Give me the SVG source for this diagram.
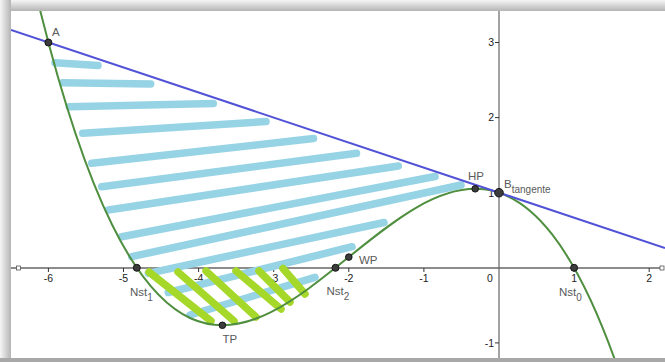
<svg xmlns="http://www.w3.org/2000/svg" width="665" height="362" viewBox="0 0 665 362">
<style>
.tick{font-family:"Liberation Sans",Arial,sans-serif;font-size:10.5px;fill:#222}
.lbl{font-family:"Liberation Sans",Arial,sans-serif;font-size:11.5px;fill:#5a5a5a}
.sub{font-size:10px}
.pt{fill:#3c3c3c;stroke:#151515;stroke-width:1}
.blue{stroke:#96d3e5;stroke-width:7.5;stroke-linecap:round;fill:none}
.green{stroke:#a6d82a;stroke-width:7.5;stroke-linecap:round;fill:none}
.tk{stroke:#333;stroke-width:1}
</style>
<defs>
<linearGradient id="gTop" x1="0" y1="0" x2="0" y2="1">
<stop offset="0" stop-color="#f6f6f6"/><stop offset="1" stop-color="#b4b4b4"/>
</linearGradient>
<linearGradient id="gLeft" x1="0" y1="0" x2="1" y2="0">
<stop offset="0" stop-color="#f6f6f6"/><stop offset="1" stop-color="#b4b4b4"/>
</linearGradient>
<clipPath id="frame"><rect x="11" y="11" width="654" height="347"/></clipPath>
</defs>
<g id="background">
<rect x="0" y="0" width="665" height="362" fill="#ffffff"/>
<rect x="0" y="0" width="665" height="11" fill="url(#gTop)"/>
<rect x="0" y="0" width="11" height="362" fill="url(#gLeft)"/>
<rect x="0" y="358" width="665" height="4" fill="#a8a8a8"/>
</g>
<g id="axes">
<line x1="11" y1="268" x2="660" y2="268" stroke="#1a1a1a" stroke-width="1.2"/>
<rect x="16.5" y="266" width="4" height="4" fill="#fff" stroke="#555" stroke-width="0.8"/>
<rect x="660" y="266" width="4" height="4" fill="#fff" stroke="#555" stroke-width="0.8"/>
<line x1="499" y1="11" x2="499" y2="358" stroke="#666" stroke-width="1.2"/>
<g class="tk">
<line x1="48.4" y1="268" x2="48.4" y2="272"/>
<line x1="123.5" y1="268" x2="123.5" y2="272"/>
<line x1="198.6" y1="268" x2="198.6" y2="272"/>
<line x1="273.7" y1="268" x2="273.7" y2="272"/>
<line x1="348.8" y1="268" x2="348.8" y2="272"/>
<line x1="423.9" y1="268" x2="423.9" y2="272"/>
<line x1="574.1" y1="268" x2="574.1" y2="272"/>
<line x1="649.2" y1="268" x2="649.2" y2="272"/>
<line x1="495" y1="42.5" x2="499" y2="42.5"/>
<line x1="495" y1="117.6" x2="499" y2="117.6"/>
<line x1="495" y1="192.7" x2="499" y2="192.7"/>
<line x1="495" y1="342.9" x2="499" y2="342.9"/>
</g>
<g class="tick" text-anchor="middle">
<text x="48.4" y="282">-6</text>
<text x="123.5" y="282">-5</text>
<text x="198.6" y="282">-4</text>
<text x="273.7" y="282">-3</text>
<text x="348.8" y="282">-2</text>
<text x="423.9" y="282">-1</text>
<text x="490" y="282">0</text>
<text x="574.1" y="282">1</text>
<text x="649.2" y="282">2</text>
</g>
<g class="tick" text-anchor="end">
<text x="494" y="46.3">3</text>
<text x="494" y="121.4">2</text>
<text x="494" y="196.5">1</text>
<text x="494" y="346.7">-1</text>
</g>
</g>
<g id="hatch-area">
<line class="blue" x1="55" y1="62.7" x2="98" y2="65.5"/>
<line class="blue" x1="62.7" y1="82.7" x2="150.7" y2="84"/>
<line class="blue" x1="69.3" y1="106.7" x2="213.3" y2="103.5"/>
<line class="blue" x1="82.7" y1="133.3" x2="266" y2="121.5"/>
<line class="blue" x1="91.7" y1="163.3" x2="313.5" y2="138.5"/>
<line class="blue" x1="101.7" y1="186.7" x2="356.5" y2="153.3"/>
<line class="blue" x1="108.3" y1="210" x2="398.3" y2="166"/>
<line class="blue" x1="121.7" y1="236.7" x2="435" y2="176.5"/>
<line class="blue" x1="131.7" y1="256.7" x2="461" y2="185"/>
<line class="blue" x1="148.3" y1="273.3" x2="384" y2="222.5"/>
<line class="blue" x1="168.3" y1="292.5" x2="352" y2="246.7"/>
<line class="blue" x1="190" y1="315" x2="315" y2="277.3"/>
</g>
<g id="hatch-negative">
<line class="green" x1="149" y1="272" x2="211" y2="321"/>
<line class="green" x1="178" y1="272" x2="234" y2="321"/>
<line class="green" x1="206" y1="271" x2="256" y2="317"/>
<line class="green" x1="236" y1="271" x2="281" y2="309"/>
<line class="green" x1="259" y1="271" x2="290" y2="302"/>
<line class="green" x1="283" y1="268.5" x2="305" y2="294"/>
</g>
<g id="connectors" clip-path="url(#frame)">
<path id="curve-f" d="M33.38,-17.5 C228.64,808.57 423.9,-193.04 619.16,371.91" fill="none" stroke="#4f8f3f" stroke-width="2"/>
<line id="tangent" x1="11" y1="30" x2="665" y2="248" stroke="#5252d6" stroke-width="2"/>
</g>
<g id="A"><circle class="pt" cx="48.4" cy="42.5" r="3.5"/><text class="lbl" x="52" y="36">A</text></g>
<g id="HP"><circle class="pt" cx="475.2" cy="188.8" r="3.3"/><text class="lbl" x="468" y="180">HP</text></g>
<g id="B_tangente"><circle class="pt" cx="499" cy="192.7" r="4.3"/><text class="lbl" x="504" y="187.5">B<tspan class="sub" y="193">tangente</tspan></text></g>
<g id="Nst1"><circle class="pt" cx="136.8" cy="267.8" r="3.5"/><text class="lbl" x="130" y="296">Nst<tspan class="sub" y="300.5">1</tspan></text></g>
<g id="Nst2"><circle class="pt" cx="335.5" cy="267.8" r="3.5"/><text class="lbl" x="326.5" y="295">Nst<tspan class="sub" y="299.5">2</tspan></text></g>
<g id="Nst0"><circle class="pt" cx="574.1" cy="267.8" r="3.5"/><text class="lbl" x="559" y="296">Nst<tspan class="sub" y="300.5">0</tspan></text></g>
<g id="WP"><circle class="pt" cx="348.8" cy="257.1" r="3.3"/><text class="lbl" x="359" y="264">WP</text></g>
<g id="TP"><circle class="pt" cx="222.4" cy="325.3" r="3.3"/><text class="lbl" x="222.5" y="343">TP</text></g>
</svg>
